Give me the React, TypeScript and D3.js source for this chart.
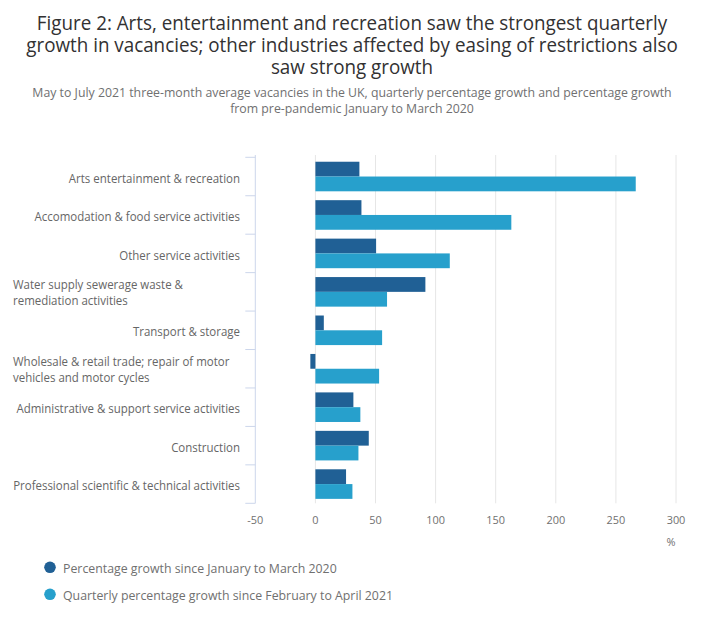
import React from "react";
import * as d3 from "d3";

const categories = [
  "Arts entertainment & recreation",
  "Accomodation & food service activities",
  "Other service activities",
  "Water supply sewerage waste & remediation activities",
  "Transport & storage",
  "Wholesale & retail trade; repair of motor vehicles and motor cycles",
  "Administrative & support service activities",
  "Construction",
  "Professional scientific & technical activities",
];
const categoryLines: string[][] = [
  ["Arts entertainment & recreation"],
  ["Accomodation & food service activities"],
  ["Other service activities"],
  ["Water supply sewerage waste &", "remediation activities"],
  ["Transport & storage"],
  ["Wholesale & retail trade; repair of motor", "vehicles and motor cycles"],
  ["Administrative & support service activities"],
  ["Construction"],
  ["Professional scientific & technical activities"],
];
const seriesNames = [
  "Percentage growth since January to March 2020",
  "Quarterly percentage growth since February to April 2021",
];
const sinceJanMar2020 = [36.6, 38.3, 50.5, 91.5, 7, -4.2, 31.6, 44.4, 25.5];
const quarterlyFebApr2021 = [266.5, 163, 111.8, 59.6, 55.5, 53, 37.4, 35.8, 30.8];
const xTicks = [-50, 0, 50, 100, 150, 200, 250, 300];
const titleLines = [
  "Figure 2: Arts, entertainment and recreation saw the strongest quarterly",
  "growth in vacancies; other industries affected by easing of restrictions also",
  "saw strong growth",
];
const subtitleLines = [
  "May to July 2021 three-month average vacancies in the UK, quarterly percentage growth and percentage growth",
  "from pre-pandemic January to March 2020",
];

const colors = ["#206095", "#27a0cc"];
const FONT = "'Open Sans', 'Noto Sans', sans-serif";

function T({ x, y, sx = 1, children, ...rest }: any) {
  return (
    <g transform={`translate(${x},${y}) scale(${sx},1)`}>
      <text x={0} y={0} fontFamily={FONT} {...rest}>
        {children}
      </text>
    </g>
  );
}

export default function App() {
  const W = 704;
  const H = 631;
  const x = d3.scaleLinear().domain([-50, 300]).range([255.3, 676]);
  const y = d3.scaleBand<string>().domain(categories).range([157.3, 503.3]).padding(0);
  const inner = d3
    .scaleBand<number>()
    .domain([0, 1])
    .range([0, y.bandwidth()])
    .paddingInner(0)
    .paddingOuter(0.3);
  const values = [sinceJanMar2020, quarterlyFebApr2021];
  const bw = y.bandwidth();
  const boundaries = d3.range(categories.length + 1).map((i) => 157.3 + i * bw);

  return (
    <div style={{ position: "absolute", left: 0, top: 0 }}>
      <svg width={W} height={H} style={{ display: "block", background: "#fff" }}>
        <T x={352} y={30} fontSize={19.6} fill="#323132" textAnchor="middle" sx={0.96}>
          {titleLines.map((t, i) => (
            <tspan key={i} x={0} dy={i === 0 ? 0 : 21.8}>
              {t}
            </tspan>
          ))}
        </T>
        <T x={352} y={97} fontSize={13.2} fill="#707071" textAnchor="middle" sx={0.933}>
          {subtitleLines.map((t, i) => (
            <tspan key={i} x={0} dy={i === 0 ? 0 : 16}>
              {t}
            </tspan>
          ))}
        </T>
        {/* gridlines */}
        {xTicks.filter((t) => t > -50).map((t) => (
          <line key={t} x1={x(t)} x2={x(t)} y1={155} y2={503.3} stroke="#e6e6e6" strokeWidth={1} />
        ))}
        {/* category axis */}
        <line x1={x(-50)} x2={x(-50)} y1={155} y2={503.3} stroke="#ccd6eb" strokeWidth={1} />
        {boundaries.map((b, i) => (
          <line key={i} x1={x(-50) - 10} x2={x(-50)} y1={b} y2={b} stroke="#ccd6eb" strokeWidth={1} />
        ))}
        {/* bars */}
        {values.map((vals, s) =>
          vals.map((v, i) => (
            <rect
              key={`${s}-${i}`}
              x={x(Math.min(0, v))}
              width={Math.abs(x(v) - x(0))}
              y={(y(categories[i]) as number) + (inner(s) as number)}
              height={inner.bandwidth()}
              fill={colors[s]}
            />
          ))
        )}
        {/* category labels */}
        {categories.map((c, i) => {
          const cy = (y(c) as number) + bw / 2;
          const lines = categoryLines[i];
          if (lines.length === 1) {
            return (
              <T key={c} x={240} y={cy + 1} fontSize={12} fill="#666" textAnchor="end" dominantBaseline="central" sx={0.957}>
                {lines[0]}
              </T>
            );
          }
          return (
            <T key={c} x={13} y={cy - 7.5} fontSize={12} fill="#666" textAnchor="start" dominantBaseline="central" sx={0.957}>
              {lines.map((l, j) => (
                <tspan key={j} x={0} dy={j === 0 ? 0 : 15.5}>
                  {l}
                </tspan>
              ))}
            </T>
          );
        })}
        {/* x tick labels */}
        {xTicks.map((t) => (
          <T key={t} x={x(t)} y={519} fontSize={11.5} fill="#707070" textAnchor="middle" dominantBaseline="central" sx={0.95}>
            {t}
          </T>
        ))}
        <T x={671} y={541} fontSize={11.5} fill="#707070" textAnchor="middle" dominantBaseline="central" sx={0.95}>
          %
        </T>
        {/* legend */}
        {seriesNames.map((n, i) => (
          <g key={n}>
            <circle cx={50} cy={567.3 + i * 27} r={5.8} fill={colors[i]} />
            <T x={63} y={568 + i * 27} fontSize={13.5} fill="#707070" dominantBaseline="central" sx={0.914}>
              {n}
            </T>
          </g>
        ))}
      </svg>
    </div>
  );
}
